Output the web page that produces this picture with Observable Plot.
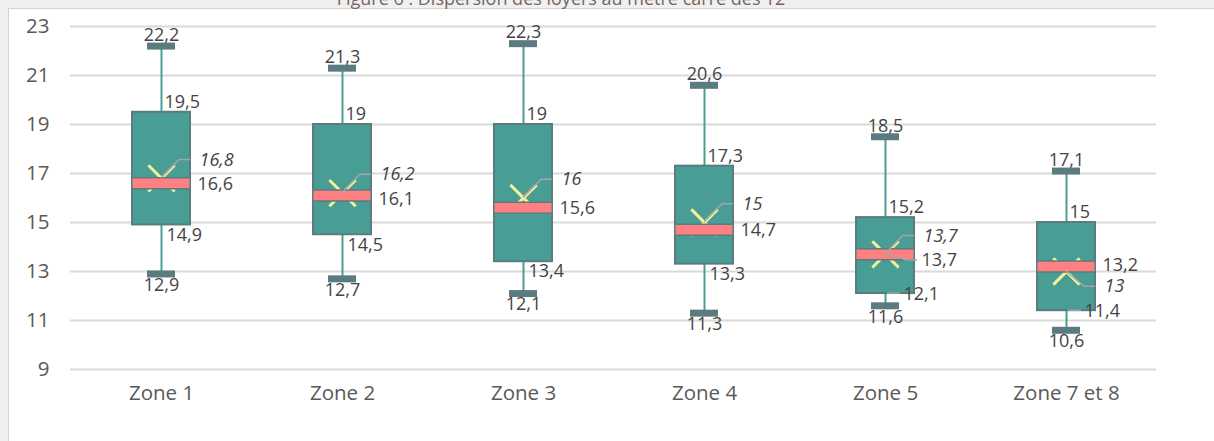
<!DOCTYPE html>
<html><head><meta charset="utf-8">
<script src="https://cdn.jsdelivr.net/npm/d3@7"></script>
<script src="https://cdn.jsdelivr.net/npm/@observablehq/plot@0.6"></script>
<style>
html,body{margin:0;padding:0;}
body{width:1214px;height:441px;overflow:hidden;background:#f0f0f0;position:relative;font-family:"Open Sans",sans-serif;}
#panel{position:absolute;left:8px;top:8px;width:1220px;height:450px;background:#fff;border-left:1.5px solid #d4d4d4;border-top:1.5px solid #d4d4d4;}
#chart{position:absolute;left:0;top:0;z-index:1;}
#title{position:absolute;left:0;width:1122px;top:-14px;text-align:center;font-size:18px;color:#76665c;z-index:2;white-space:nowrap;}
</style></head>
<body>
<div id="panel"></div>
<div id="title">Figure 6 : Dispersion des loyers au mètre carré des T2</div>
<div id="chart"></div>
<script>
const zones = ["Zone 1","Zone 2","Zone 3","Zone 4","Zone 5","Zone 7 et 8"];
const minV  = [12.9, 12.7, 12.1, 11.3, 11.6, 10.6];
const q1V   = [14.9, 14.5, 13.4, 13.3, 12.1, 11.4];
const medV  = [16.6, 16.1, 15.6, 14.7, 13.7, 13.2];
const q3V   = [19.5, 19, 19, 17.3, 15.2, 15];
const maxV  = [22.2, 21.3, 22.3, 20.6, 18.5, 17.1];
const meanV = [16.8, 16.2, 16, 15, 13.7, 13];
const yTicks = [9, 11, 13, 15, 17, 19, 21, 23];

const fmt = v => String(v).replace(".", ",");

const rows = zones.map((z, i) => {
  const above = meanV[i] >= medV[i];
  const meanLab = above ? meanV[i] + 0.75 : meanV[i] - 0.62;
  const medLab = above ? Math.min(medV[i], meanLab - 1.0) : medV[i] + 0.06;
  const q1Side = (q1V[i] - minV[i]) < 1;
  return {zone: z, min: minV[i], q1: q1V[i], med: medV[i], q3: q3V[i], max: maxV[i], mean: meanV[i],
          meanLab, medLab, q1Side};
});

const teal = "#489e95", slate = "#5b7b80", pink = "#ff8080", yellow = "#f5f19a", txt = "#444444";

function leaders(index, scales) {
  const x = scales.x, y = scales.y;
  const bw = typeof x.bandwidth === "function" ? x.bandwidth() : (x.bandwidth || 0);
  const g = d3.create("svg:g").attr("fill", "none").attr("stroke", "#a5a5a5").attr("stroke-width", 1.5);
  rows.forEach(r => {
    const cx = x(r.zone) + bw / 2;
    g.append("path").attr("d", `M${cx},${y(r.mean)}L${cx + 18},${y(r.meanLab)}H${cx + 29}`);
    if (Math.abs(r.medLab - r.med) > 0.2) {
      g.append("path").attr("d", `M${cx},${y(r.med)}L${cx + 22},${y(r.medLab)}H${cx + 32}`);
    }
    if (r.q1Side) {
      g.append("path").attr("d", `M${cx + 2},${y(r.q1)}H${cx + 15}`);
    }
  });
  return g.node();
}

const lab = {fill: txt, fontSize: 18, fontFamily: "Open Sans"};

const chart = Plot.plot({
  width: 1214, height: 441,
  marginLeft: 70, marginRight: 58, marginTop: 26, marginBottom: 72,
  style: {background: "transparent", fontFamily: "Open Sans", fontSize: "20.5px", color: "#595959"},
  x: {domain: zones, paddingInner: 0.68, paddingOuter: 0.34, align: 0.5, tickSize: 0, tickPadding: 16, label: null},
  y: {domain: [9, 23], ticks: yTicks, tickSize: 0, tickPadding: 21, label: null},
  marks: [
    Plot.ruleY(yTicks, {stroke: "#d9d9d9", strokeWidth: 2}),
    Plot.ruleX(rows, {x: "zone", y1: "min", y2: "max", stroke: teal, strokeWidth: 2}),
    Plot.tickY(rows, {x: "zone", y: "min", stroke: slate, strokeWidth: 7, insetLeft: 15, insetRight: 15}),
    Plot.tickY(rows, {x: "zone", y: "max", stroke: slate, strokeWidth: 7, insetLeft: 15, insetRight: 15}),
    Plot.barY(rows, {x: "zone", y1: "q1", y2: "q3", fill: teal, stroke: slate, strokeWidth: 2}),
    Plot.dot(rows, {x: "zone", y: "mean", symbol: "times", r: 12, stroke: yellow, strokeWidth: 3}),
    Plot.tickY(rows, {x: "zone", y: "med", stroke: slate, strokeWidth: 12.5, insetLeft: -1, insetRight: -1}),
    Plot.tickY(rows, {x: "zone", y: "med", stroke: pink, strokeWidth: 9.5, insetLeft: 0.5, insetRight: 0.5}),
    leaders,
    Plot.text(rows, {x: "zone", y: "max", text: d => fmt(d.max), dy: -11, ...lab}),
    Plot.text(rows, {x: "zone", y: "min", text: d => fmt(d.min), dy: 11, ...lab}),
    Plot.text(rows, {x: "zone", y: "q3", text: d => fmt(d.q3), dy: -10, textAnchor: "start", ...lab, dx: 3}),
    Plot.text(rows.filter(d => !d.q1Side), {x: "zone", y: "q1", text: d => fmt(d.q1), dy: 10, dx: 5, textAnchor: "start", ...lab}),
    Plot.text(rows.filter(d => d.q1Side), {x: "zone", y: "q1", text: d => fmt(d.q1), dy: 1, dx: 18, textAnchor: "start", ...lab}),
    Plot.text(rows, {x: "zone", y: "medLab", text: d => fmt(d.med), dx: 36, textAnchor: "start", ...lab}),
    Plot.text(rows, {x: "zone", y: "meanLab", text: d => fmt(d.mean), dx: 38, textAnchor: "start", fontStyle: "italic", ...lab})
  ]
});
document.getElementById("chart").appendChild(chart);
</script>
</body></html>
